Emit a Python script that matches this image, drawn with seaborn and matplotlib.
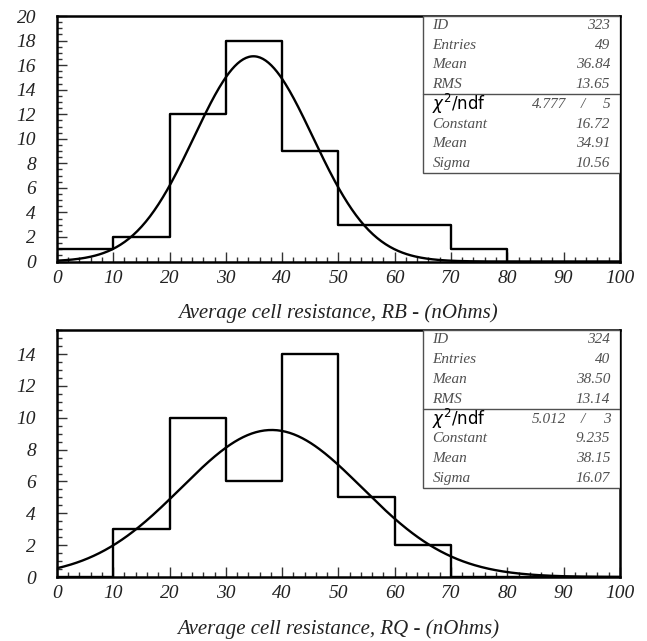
import numpy as np
import pandas as pd
import matplotlib
matplotlib.use("Agg")
import matplotlib.pyplot as plt
from matplotlib.patches import Rectangle
from matplotlib.ticker import MultipleLocator
import seaborn as sns

# ---------------- data ----------------
bin_edges = [0, 10, 20, 30, 40, 50, 60, 70, 80, 90, 100]
rb_counts = [1, 2, 12, 18, 9, 3, 3, 1, 0, 0]
rq_counts = [0, 3, 10, 6, 14, 5, 2, 0, 0, 0]

rb_stats = {"ID": "323", "Entries": "49", "Mean": "36.84", "RMS": "13.65"}
rq_stats = {"ID": "324", "Entries": "40", "Mean": "38.50", "RMS": "13.14"}
rb_fit_chi2, rb_fit_ndf = "4.777", "5"
rq_fit_chi2, rq_fit_ndf = "5.012", "3"
rb_fit = {"Constant": 16.72, "Mean": 34.91, "Sigma": 10.56}
rq_fit = {"Constant": 9.235, "Mean": 38.15, "Sigma": 16.07}
rb_fit_txt = {"Constant": "16.72", "Mean": "34.91", "Sigma": "10.56"}
rq_fit_txt = {"Constant": "9.235", "Mean": "38.15", "Sigma": "16.07"}

x_labels = ["Average cell resistance, RB - (nOhms)",
            "Average cell resistance, RQ - (nOhms)"]
y_limits = [20, 15.5]
y_major = [2, 2]

sns.set_theme(style="white")
plt.rcParams["font.family"] = ["Liberation Serif", "DejaVu Serif"]
plt.rcParams["mathtext.fontset"] = "dejavusans"

fig = plt.figure(figsize=(6.47, 6.41), dpi=100)
ax1 = fig.add_axes([0.088, 0.592, 0.870, 0.383])
ax2 = fig.add_axes([0.088, 0.0998, 0.870, 0.385])

GRAY = "#505050"


def draw_panel(ax, counts, fit, fit_txt, stats, chi2, ndf, xlabel, ymax, ymaj):
    centers = [(bin_edges[i] + bin_edges[i + 1]) / 2 for i in range(len(counts))]
    df = pd.DataFrame({"x": centers, "w": counts})
    sns.histplot(data=df, x="x", weights="w", bins=bin_edges, element="step",
                 fill=False, color="black", linewidth=1.7, ax=ax)
    xs = np.linspace(0, 100, 400)
    ys = fit["Constant"] * np.exp(-0.5 * ((xs - fit["Mean"]) / fit["Sigma"]) ** 2)
    sns.lineplot(x=xs, y=ys, color="black", linewidth=1.7, ax=ax)

    ax.set_xlim(0, 100)
    ax.set_ylim(0, ymax)
    ax.xaxis.set_major_locator(MultipleLocator(10))
    ax.xaxis.set_minor_locator(MultipleLocator(2))
    ax.yaxis.set_major_locator(MultipleLocator(ymaj))
    ax.yaxis.set_minor_locator(MultipleLocator(0.5))
    ax.tick_params(which="both", direction="in", color="#333333", width=1.0,
                   labelsize=14, bottom=True, left=True)
    ax.tick_params(which="major", length=7)
    ax.tick_params(which="minor", length=3.5)
    ax.tick_params(axis="y", pad=15)
    ax.tick_params(axis="x", pad=6)
    for lab in ax.get_xticklabels() + ax.get_yticklabels():
        lab.set_fontstyle("italic")
        lab.set_color("#222222")
    for sp in ax.spines.values():
        sp.set_visible(True)
        sp.set_color("black")
        sp.set_linewidth(1.8)
    ax.set_ylabel("")
    ax.set_xlabel(xlabel, fontsize=15, fontstyle="italic", color="#222222", labelpad=12)

    # stats box
    bx0, by0, bdiv = 0.65, 0.362, 0.682
    ax.add_patch(Rectangle((bx0, by0), 1 - bx0, 1 - by0, transform=ax.transAxes,
                           fill=True, facecolor="white", edgecolor=GRAY,
                           linewidth=1.0, zorder=5))
    ax.plot([bx0, 1], [bdiv, bdiv], transform=ax.transAxes, color=GRAY,
            linewidth=1.0, zorder=6)
    row_h = 0.0805
    top = 1 - 0.038
    xl, xr = bx0 + 0.017, 0.983
    rows1 = list(stats.items())
    for i, (k, v) in enumerate(rows1):
        y = top - i * row_h
        ax.text(xl, y, k, transform=ax.transAxes, ha="left", va="center",
                fontsize=11, fontstyle="italic", color=GRAY, zorder=7)
        ax.text(xr, y, v, transform=ax.transAxes, ha="right", va="center",
                fontsize=11, fontstyle="italic", color=GRAY, zorder=7)
    y = top - 4 * row_h
    ax.text(xl, y, r"$\chi^2$/ndf", transform=ax.transAxes, ha="left", va="center",
            fontsize=12, family=["DejaVu Sans"], color="black", zorder=7)
    ax.text(0.905, y, chi2, transform=ax.transAxes, ha="right", va="center",
            fontsize=11, fontstyle="italic", color=GRAY, zorder=7)
    ax.text(0.935, y, "/", transform=ax.transAxes, ha="center", va="center",
            fontsize=11, fontstyle="italic", color=GRAY, zorder=7)
    ax.text(xr, y, ndf, transform=ax.transAxes, ha="right", va="center",
            fontsize=11, fontstyle="italic", color=GRAY, zorder=7)
    for j, (k, v) in enumerate(fit_txt.items()):
        y = top - (5 + j) * row_h
        ax.text(xl, y, k, transform=ax.transAxes, ha="left", va="center",
                fontsize=11, fontstyle="italic", color=GRAY, zorder=7)
        ax.text(xr, y, v, transform=ax.transAxes, ha="right", va="center",
                fontsize=11, fontstyle="italic", color=GRAY, zorder=7)


draw_panel(ax1, rb_counts, rb_fit, rb_fit_txt, rb_stats, rb_fit_chi2, rb_fit_ndf,
           x_labels[0], y_limits[0], y_major[0])
draw_panel(ax2, rq_counts, rq_fit, rq_fit_txt, rq_stats, rq_fit_chi2, rq_fit_ndf,
           x_labels[1], y_limits[1], y_major[1])

fig.savefig("out.png", dpi=100, facecolor="white")
